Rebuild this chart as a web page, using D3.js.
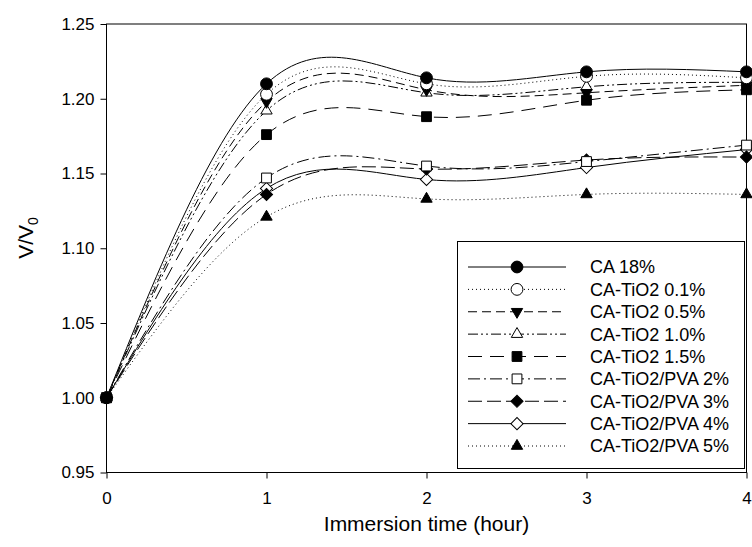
<!DOCTYPE html>
<html lang="en">
<head>
  <meta charset="UTF-8">
  <title>Swelling ratio</title>
  <script src="https://cdn.jsdelivr.net/npm/d3@7.6.1/dist/d3.min.js"></script>
  <style>
    body { margin: 0; background: #fff; }
    svg { display: block; font-family: Arial, "Liberation Sans", sans-serif; }
  </style>
</head>
<body>
  <div id="box"></div>
  <script>
    const width = 752
    const height = 547
    const margin = { left: 106.5, right: 5, top: 24, bottom: 74 }

    const times = [0, 1, 2, 3, 4]
    const xTicks = [0, 1, 2, 3, 4]
    const yTicks = [0.95, 1.00, 1.05, 1.10, 1.15, 1.20, 1.25]
    const names = ['CA 18%', 'CA-TiO2 0.1%', 'CA-TiO2 0.5%', 'CA-TiO2 1.0%', 'CA-TiO2 1.5%',
      'CA-TiO2/PVA 2%', 'CA-TiO2/PVA 3%', 'CA-TiO2/PVA 4%', 'CA-TiO2/PVA 5%']
    const ca18 = [1.0, 1.210, 1.214, 1.218, 1.218]
    const tio01 = [1.0, 1.203, 1.210, 1.215, 1.214]
    const tio05 = [1.0, 1.198, 1.206, 1.204, 1.209]
    const tio10 = [1.0, 1.192, 1.204, 1.208, 1.211]
    const tio15 = [1.0, 1.176, 1.188, 1.199, 1.206]
    const pva2 = [1.0, 1.147, 1.155, 1.158, 1.169]
    const pva3 = [1.0, 1.136, 1.153, 1.159, 1.161]
    const pva4 = [1.0, 1.140, 1.146, 1.154, 1.166]
    const pva5 = [1.0, 1.121, 1.133, 1.136, 1.136]
    const values = [ca18, tio01, tio05, tio10, tio15, pva2, pva3, pva4, pva5]

    // line dash and marker for each series
    const dashes = ['none', '1,3', '9,5', '10,3,2,3,2,3', '14,8', '12,4,2,4', '14,5', 'none', '1,3']
    const markers = ['circle', 'circle', 'triangleDown', 'triangle', 'square', 'square', 'diamond', 'diamond', 'triangle']
    const filled = [true, false, true, false, true, false, true, false, true]

    const svg = d3.select('#box').append('svg')
      .attr('width', width)
      .attr('height', height)

    const x = d3.scaleLinear().domain([0, 4]).range([margin.left, width - margin.right - 0.5])
    const y = d3.scaleLinear().domain([0.95, 1.25]).range([height - margin.bottom - 0.5, margin.top])

    // frame
    svg.append('rect')
      .attr('x', x(0)).attr('y', y(1.25))
      .attr('width', x(4) - x(0)).attr('height', y(0.95) - y(1.25))
      .attr('fill', 'none').attr('stroke', '#000')

    const xAxis = d3.axisBottom(x).tickValues(xTicks).tickFormat(d3.format('d')).tickSize(6).tickPadding(13)
    svg.append('g')
      .attr('transform', `translate(0,${y(0.95)})`)
      .call(xAxis)
      .call(g => g.select('.domain').remove())
      .attr('font-size', 17)
      .attr('font-family', null)

    const yAxis = d3.axisLeft(y).tickValues(yTicks).tickFormat(d3.format('.2f')).tickSize(6).tickPadding(6)
    svg.append('g')
      .attr('transform', `translate(${x(0)},0)`)
      .call(yAxis)
      .call(g => g.select('.domain').remove())
      .attr('font-size', 17)
      .attr('font-family', null)

    svg.selectAll('.tick text').attr('fill', '#000')

    // axis titles
    svg.append('text')
      .attr('x', (x(0) + x(4)) / 2).attr('y', 531)
      .attr('text-anchor', 'middle').attr('font-size', 21)
      .text('Immersion time (hour)')

    const yt = svg.append('text')
      .attr('transform', 'translate(33,238) rotate(-90)')
      .attr('text-anchor', 'middle').attr('font-size', 21)
    yt.append('tspan').text('V/V')
    yt.append('tspan').attr('font-size', 14).attr('dy', 5).text('0')

    const symbols = {
      circle: d3.symbol(d3.symbolCircle, 110),
      square: d3.symbol(d3.symbolSquare, 96),
      diamond: d3.symbol(d3.symbolSquare, 74),
      triangle: d3.symbol(d3.symbolTriangle, 56),
      triangleDown: d3.symbol(d3.symbolTriangle, 56)
    }
    const turns = { circle: 0, square: 0, diamond: 45, triangle: 0, triangleDown: 180 }

    function drawMarker(g, i, px, py) {
      g.append('path')
        .attr('d', symbols[markers[i]]())
        .attr('transform', `translate(${px},${py}) rotate(${turns[markers[i]]})`)
        .attr('fill', filled[i] ? '#000' : '#fff')
        .attr('stroke', '#000')
        .attr('stroke-width', 1)
    }

    const line = d3.line()
      .x((d, j) => x(times[j]))
      .y(d => y(d))
      .curve(d3.curveNatural)

    const series = values.map((v, i) => ({ v, i }))

    svg.append('g').selectAll('path')
      .data(series)
      .join('path')
      .attr('d', s => line(s.v))
      .attr('fill', 'none')
      .attr('stroke', '#000')
      .attr('stroke-width', 1)
      .attr('stroke-dasharray', s => dashes[s.i])

    const marks = svg.append('g')
    series.slice().reverse().forEach(s => {
      s.v.forEach((d, j) => drawMarker(marks, s.i, x(times[j]), y(d)))
    })

    // legend
    const lg = svg.append('g')
    lg.append('rect')
      .attr('x', 457.5).attr('y', 241.5)
      .attr('width', 287).attr('height', 227)
      .attr('fill', '#fff').attr('stroke', '#000')

    const rowY = d3.scaleLinear().domain([0, 8]).range([267, 446])
    names.forEach((name, i) => {
      const ry = rowY(i)
      lg.append('line')
        .attr('x1', 468).attr('x2', 566)
        .attr('y1', ry).attr('y2', ry)
        .attr('stroke', '#000')
        .attr('stroke-dasharray', dashes[i])
      drawMarker(lg, i, 517, ry)
      lg.append('text')
        .attr('x', 590).attr('y', ry).attr('dy', '0.36em')
        .attr('font-size', 18)
        .text(name)
    })
  </script>
</body>
</html>
